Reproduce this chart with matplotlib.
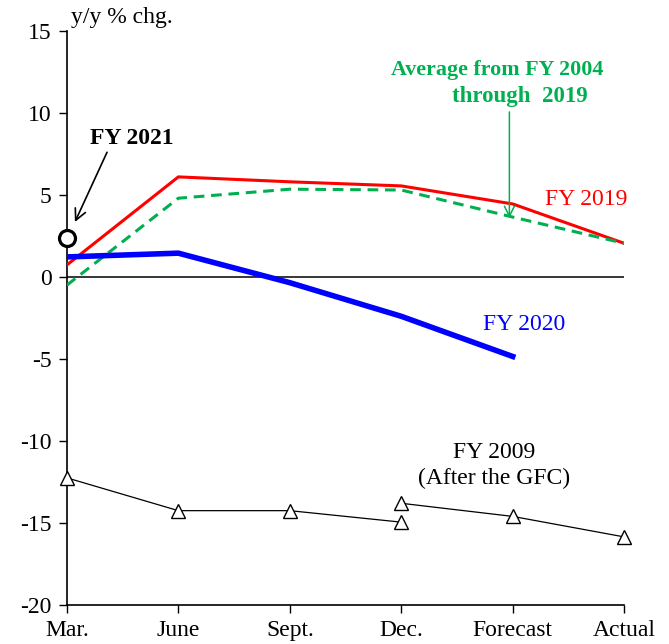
import matplotlib.pyplot as plt
import numpy as np

plt.rcParams['font.family'] = ['Liberation Serif', 'DejaVu Serif']
plt.rcParams['axes.unicode_minus'] = False

months = ["Mar.", "June", "Sept.", "Dec.", "Forecast", "Actual"]

fy2019 = [0.73, 6.1, 5.8, 5.55, 4.45, 2.05]
avg_04_19 = [-0.5, 4.8, 5.35, 5.3, 3.65, 2.05]
fy2020 = [1.22, 1.45, -0.35, -2.4, -4.85]
fy2021 = [2.4]
# FY 2009: first run Mar.-Dec., second run Dec.-Actual (revised at Dec.)
fy2009_a = [-12.25, -14.25, -14.25, -14.95]
fy2009_b = [-13.8, -14.6, -15.85]

x = np.arange(len(months))

fig, ax = plt.subplots(figsize=(6.69, 6.44), dpi=100)
fig.subplots_adjust(left=0.1, right=0.933, bottom=0.0606, top=0.952)

ax.axhline(0, color='black', lw=1.1, zorder=1)

ax.plot(x, fy2019, color='#FF0000', lw=2.2, zorder=3)
ax.plot(x, avg_04_19, color='#00B050', lw=2.2, ls=(0, (3.5, 2.2)), zorder=3)
ax.plot(x[:len(fy2020)], fy2020, color='#0000FF', lw=4, zorder=4)
ax.plot(x[:1], fy2021, 'o', ms=11.5, mfc='white', mec='black', mew=2.3, zorder=5,
        clip_on=False)
ax.plot(x[:4], fy2009_a, color='black', lw=0.9, marker='^', ms=10.5, mfc='white',
        mec='black', mew=1, clip_on=False, zorder=4)
ax.plot(x[3:], fy2009_b, color='black', lw=0.9, marker='^', ms=10.5, mfc='white',
        mec='black', mew=1, clip_on=False, zorder=4)

ax.set_xlim(0, 5)
ax.set_ylim(-20, 15)
ax.set_yticks(range(-20, 16, 5))
ax.set_xticks(x)
ax.set_xticklabels(months)
ax.tick_params(labelsize=17, length=6, width=1, direction='out', pad=5)
for s in ['top', 'right']:
    ax.spines[s].set_visible(False)
for s in ['left', 'bottom']:
    ax.spines[s].set_linewidth(1.2)

ax.text(0.04, 15.2, "y/y % chg.", fontsize=17, ha='left', va='bottom')

ax.text(0.58, 8.45, "FY 2021", fontsize=17, fontweight='bold', ha='center', va='center')
ax.annotate("", xy=(0.072, 3.35), xytext=(0.36, 7.6),
            arrowprops=dict(arrowstyle='->', color='black', lw=1.2,
                            shrinkA=0, shrinkB=0, mutation_scale=20))

ax.text(3.86, 12.6, "Average from FY 2004", fontsize=15.8,
        fontweight='bold', color='#00B050', ha='center', va='center')
ax.text(4.06, 11.0, "through  2019", fontsize=16.5,
        fontweight='bold', color='#00B050', ha='center', va='center')
ax.annotate("", xy=(3.97, 3.6), xytext=(3.97, 10.06),
            arrowprops=dict(arrowstyle='->', color='#00B050', lw=1.1,
                            shrinkA=0, shrinkB=0, mutation_scale=18))

ax.text(4.29, 4.7, "FY 2019", fontsize=17, color='#FF0000', ha='left', va='center')
ax.text(3.73, -2.93, "FY 2020", fontsize=17, color='#0000FF', ha='left', va='center')
ax.text(3.83, -11.5, "FY 2009\n(After the GFC)", fontsize=17, color='black',
        ha='center', va='center', linespacing=1.35)

plt.savefig("out.png", dpi=100)
